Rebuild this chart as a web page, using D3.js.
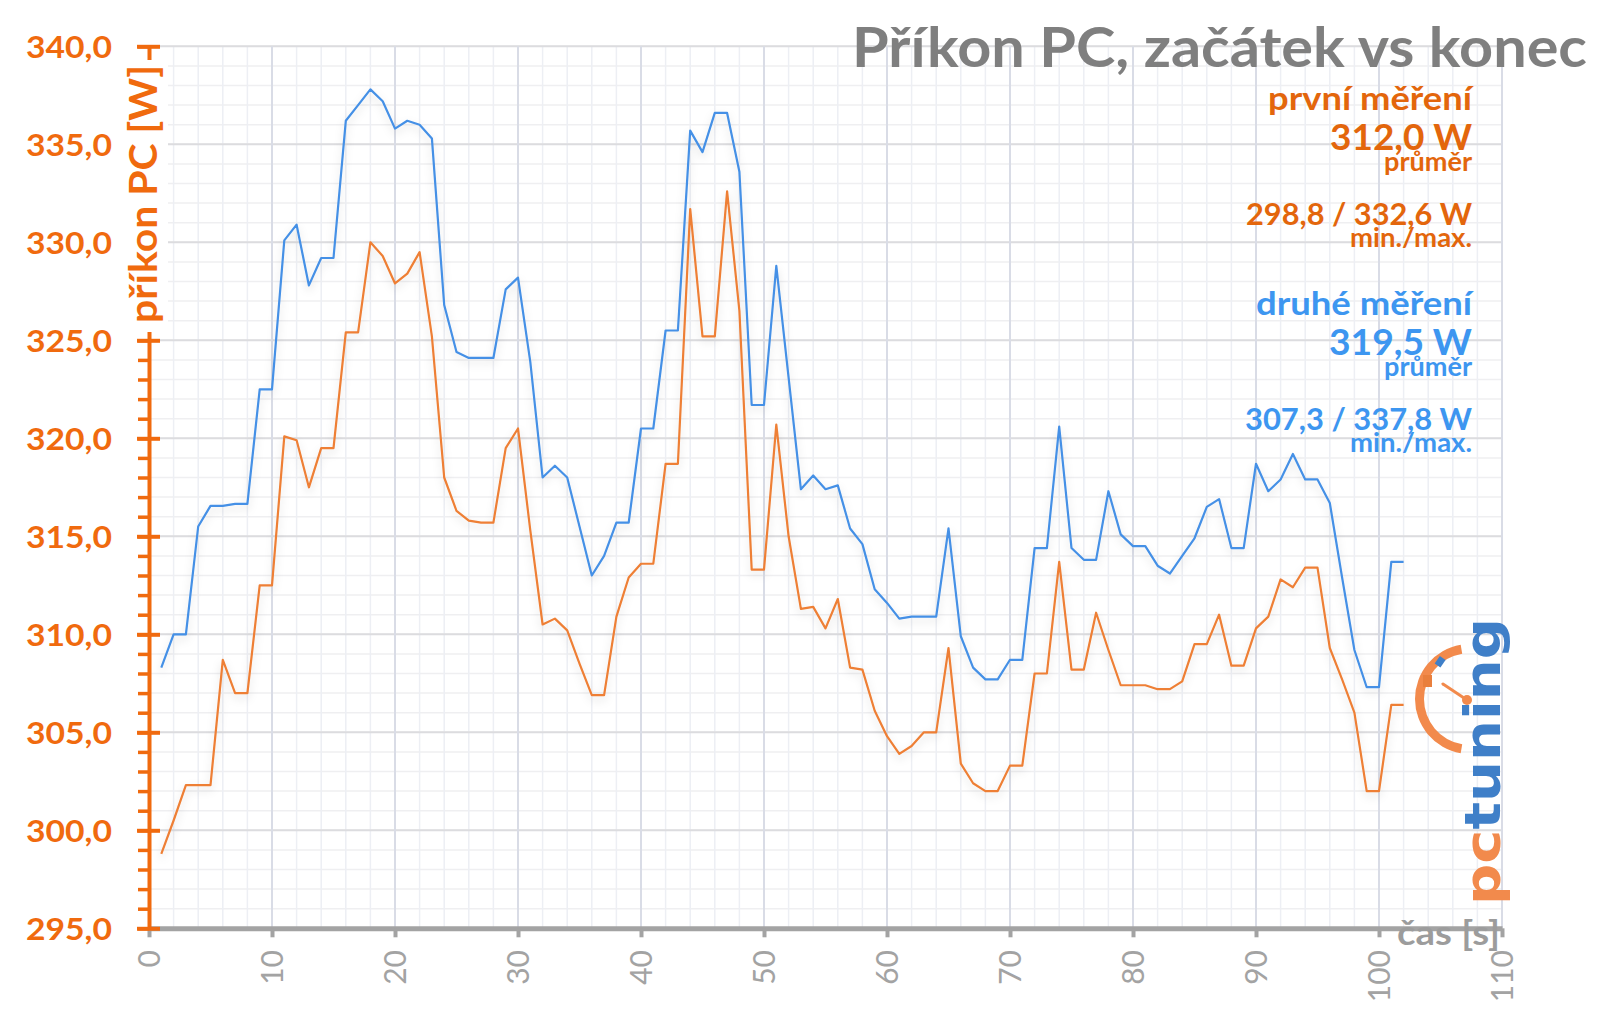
<!DOCTYPE html>
<html><head><meta charset="utf-8">
<script src="https://cdn.jsdelivr.net/npm/d3@7"></script>
<style>
html,body{margin:0;padding:0;background:#fff;}
svg{display:block;}
text{font-family:Lato,"Open Sans",sans-serif;}
</style></head><body>
<svg id="chart" width="1600" height="1011"></svg>
<script>
// ---------- data ----------
const firstRun = [298.8,300.5,302.3,302.3,302.3,308.7,307.0,307.0,312.5,312.5,
320.1,319.9,317.5,319.5,319.5,325.4,325.4,330.0,329.3,327.9,
328.4,329.5,325.2,318.0,316.3,315.8,315.7,315.7,319.5,320.5,
315.3,310.5,310.8,310.2,308.5,306.9,306.9,310.9,312.9,313.6,
313.6,318.7,318.7,331.7,325.2,325.2,332.6,326.5,313.3,313.3,
320.7,315.0,311.3,311.4,310.3,311.8,308.3,308.2,306.1,304.8,
303.9,304.3,305.0,305.0,309.3,303.4,302.4,302.0,302.0,303.3,
303.3,308.0,308.0,313.7,308.2,308.2,311.1,309.2,307.4,307.4,
307.4,307.2,307.2,307.6,309.5,309.5,311.0,308.4,308.4,310.3,
310.9,312.8,312.4,313.4,313.4,309.3,307.7,306.0,302.0,302.0,
306.4,306.4];
const secondRun = [308.3,310.0,310.0,315.5,316.55,316.55,316.65,316.65,322.5,322.5,
330.1,330.9,327.8,329.2,329.2,336.2,337.0,337.8,337.2,335.8,
336.2,336.0,335.3,326.8,324.4,324.1,324.1,324.1,327.6,328.2,
323.9,318.0,318.6,318.0,315.5,313.0,314.0,315.7,315.7,320.5,
320.5,325.5,325.5,335.7,334.6,336.6,336.6,333.6,321.7,321.7,
328.8,323.1,317.4,318.1,317.4,317.6,315.4,314.6,312.3,311.6,
310.8,310.9,310.9,310.9,315.4,309.9,308.3,307.7,307.7,308.7,
308.7,314.4,314.4,320.6,314.4,313.8,313.8,317.3,315.1,314.5,
314.5,313.5,313.1,314.0,314.9,316.5,316.9,314.4,314.4,318.7,
317.3,317.9,319.2,317.9,317.9,316.7,312.9,309.2,307.3,307.3,
313.7,313.7];
const xTickValues = [0,10,20,30,40,50,60,70,80,90,100,110];
const yTickValues = [295,300,305,310,315,320,325,330,335,340];
const chartTitle = "Příkon PC, začátek vs konec";
const yTitle = "příkon PC [W]";
const xTitle = "čas [s]";
const seriesNames = ["první měření","druhé měření"];
const averages = ["312,0 W","319,5 W"];
const ranges = ["298,8 / 332,6 W","307,3 / 337,8 W"];
const avgLabel = "průměr";
const rangeLabel = "min./max.";

// ---------- setup ----------
const svg = d3.select("#chart");
const x = d3.scaleLinear().domain([0,110]).range([149,1502]);
const y = d3.scaleLinear().domain([295,340]).range([928.3,46.3]);
const ORANGE_TXT = "#f06a0e", ORANGE_LEG = "#e3660c", BLUE_LEG = "#3d96f0";
const ORANGE_LINE = "#ee7f35", BLUE_LINE = "#4590e6";
const GRAY = "#a3a3a3";

const defs = svg.append("defs");
const flt = defs.append("filter").attr("id","sh").attr("x","-5%").attr("y","-10%").attr("width","110%").attr("height","130%");
flt.append("feDropShadow").attr("dx",0).attr("dy",4).attr("stdDeviation",4)
  .attr("flood-color","#000").attr("flood-opacity",0.14);

// ---------- grid ----------
const grid = svg.append("g");
grid.append("g").selectAll("line").data(y.ticks(45)).join("line")
  .attr("x1",x(0)).attr("x2",x(110)).attr("y1",d=>y(d)).attr("y2",d=>y(d))
  .attr("stroke","#efeff1").attr("stroke-width",1.5);
grid.append("g").selectAll("line").data(x.ticks(55)).join("line")
  .attr("x1",d=>x(d)).attr("x2",d=>x(d)).attr("y1",y(340)).attr("y2",y(295))
  .attr("stroke","#edeff4").attr("stroke-width",1.5);
grid.append("g").selectAll("line").data(y.ticks(9)).join("line")
  .attr("x1",x(0)).attr("x2",x(110)).attr("y1",d=>y(d)).attr("y2",d=>y(d))
  .attr("stroke","#dcdcdf").attr("stroke-width",2);
grid.append("g").selectAll("line").data(x.ticks(11)).join("line")
  .attr("x1",d=>x(d)).attr("x2",d=>x(d)).attr("y1",y(340)).attr("y2",y(295))
  .attr("stroke","#d9dce6").attr("stroke-width",2);

// ---------- x axis ----------
const xAxis = svg.append("g").attr("transform",`translate(0,${y(295)})`)
  .call(d3.axisBottom(x).tickValues(xTickValues).tickSize(9).tickSizeOuter(0).tickFormat(d3.format("d")));
xAxis.select(".domain").attr("stroke",GRAY).attr("stroke-width",5);
xAxis.selectAll(".tick line").attr("stroke",GRAY).attr("stroke-width",4);
xAxis.selectAll(".tick text")
  .attr("transform","rotate(-90)").attr("x",-21.7).attr("y",0).attr("dy","0.35em")
  .attr("text-anchor","end").attr("fill",GRAY).attr("font-size",30)
  .style("font-family","Lato, 'Open Sans', sans-serif");

// ---------- y axis ----------
const fmt = d3.formatLocale({decimal:",",thousands:" ",grouping:[3],currency:["",""]}).format(".1f");
const yMinor = svg.append("g").attr("transform",`translate(${x(0)},0)`)
  .call(d3.axisLeft(y).ticks(45).tickSize(11).tickSizeOuter(0).tickFormat(""));
yMinor.select(".domain").remove();
yMinor.selectAll(".tick line").attr("stroke",ORANGE_TXT).attr("stroke-width",3.5);
const yAxis = svg.append("g").attr("transform",`translate(${x(0)},0)`)
  .call(d3.axisLeft(y).tickValues(yTickValues).tickSize(12).tickSizeOuter(0).tickFormat(fmt));
yAxis.select(".domain").attr("stroke",ORANGE_TXT).attr("stroke-width",4);
yAxis.selectAll(".tick line").attr("x1",11).attr("x2",-12).attr("stroke",ORANGE_TXT).attr("stroke-width",4);
yAxis.selectAll(".tick text")
  .attr("x",-123).attr("dy","0.36em").attr("text-anchor","start")
  .attr("textLength",86).attr("lengthAdjust","spacingAndGlyphs")
  .attr("fill",ORANGE_TXT).attr("font-size",31).attr("font-weight","bold")
  .style("font-family","Lato, 'Open Sans', sans-serif");

// ---------- data lines ----------
const line = d3.line().x((d,i)=>x(i+1)).y(d=>y(d));
const lines = svg.append("g").attr("filter","url(#sh)");
lines.append("path").datum(secondRun).attr("d",line)
  .attr("fill","none").attr("stroke",BLUE_LINE).attr("stroke-width",2.2).attr("stroke-linejoin","round");
lines.append("path").datum(firstRun).attr("d",line)
  .attr("fill","none").attr("stroke",ORANGE_LINE).attr("stroke-width",2.2).attr("stroke-linejoin","round");

// ---------- axis titles ----------
svg.append("rect").attr("x",126).attr("y",60).attr("width",42).attr("height",272).attr("fill","#fff");
svg.append("text").attr("transform","translate(157,194) rotate(-90)")
  .attr("x",-129).attr("y",0).attr("text-anchor","start")
  .attr("textLength",258).attr("lengthAdjust","spacingAndGlyphs")
  .attr("font-size",39).attr("font-weight","bold").attr("fill",ORANGE_TXT).text(yTitle);
svg.append("text").attr("x",1397).attr("y",945).attr("textLength",103).attr("lengthAdjust","spacingAndGlyphs")
  .attr("font-size",34).attr("font-weight","bold").attr("fill","#9c9c9c").text(xTitle);

// ---------- title ----------
svg.append("text").attr("x",852).attr("y",67).attr("textLength",735).attr("lengthAdjust","spacingAndGlyphs")
  .attr("font-size",55).attr("font-weight","bold").attr("fill","#7f7f7f").text(chartTitle);

// ---------- legend block ----------
const RIGHT = 1472;
const rows = [
  {key:"name", dy:110, fs:33, w:[204,216]},
  {key:"avg", dy:150, fs:37, w:[142,143]},
  {key:"avgLabel", dy:171, fs:26, w:[88,88]},
  {key:"range", dy:225, fs:30, w:[226,227]},
  {key:"rangeLabel", dy:247, fs:26, w:[122,122]}
];
[0,1].forEach(s=>{
  const texts = {name:seriesNames[s], avg:averages[s], avgLabel:avgLabel, range:ranges[s], rangeLabel:rangeLabel};
  const off = s*205;
  rows.forEach(r=>{
    svg.append("text").attr("x",RIGHT-r.w[s]).attr("y",r.dy+off)
      .attr("textLength",r.w[s]).attr("lengthAdjust","spacingAndGlyphs")
      .attr("font-size",r.fs).attr("font-weight","bold")
      .attr("fill",s===0?ORANGE_LEG:BLUE_LEG).text(texts[r.key]);
  });
});

// ---------- logo ----------
const LOGO_O = "#f28a4c", LOGO_B = "#3f7fc8";
const logo = svg.append("g");
logo.append("path").attr("transform","translate(1470,699)")
  .attr("d",d3.arc()({innerRadius:46,outerRadius:55,startAngle:Math.PI+0.17,endAngle:2*Math.PI-0.17}))
  .attr("fill",LOGO_O);
logo.append("rect").attr("x",1423).attr("y",675).attr("width",9).attr("height",12).attr("fill","#e97f3d");
logo.append("rect").attr("x",1437).attr("y",657).attr("width",7).attr("height",9)
  .attr("transform","rotate(35,1440,661)").attr("fill",LOGO_B);
logo.append("line").attr("x1",1443).attr("y1",684).attr("x2",1467).attr("y2",700)
  .attr("stroke",LOGO_O).attr("stroke-width",3).attr("stroke-linecap","round");
logo.append("circle").attr("cx",1467).attr("cy",700).attr("r",5).attr("fill",LOGO_O);
const lt = logo.append("text").attr("transform","translate(1500,905) rotate(-90)")
  .attr("x",0).attr("y",0).attr("textLength",287).attr("lengthAdjust","spacingAndGlyphs")
  .attr("font-size",50).attr("font-weight","bold").style("font-family","'DejaVu Sans', sans-serif");
lt.append("tspan").attr("fill",LOGO_O).text("pc");
lt.append("tspan").attr("fill",LOGO_B).text("tuning");
</script>
</body></html>
